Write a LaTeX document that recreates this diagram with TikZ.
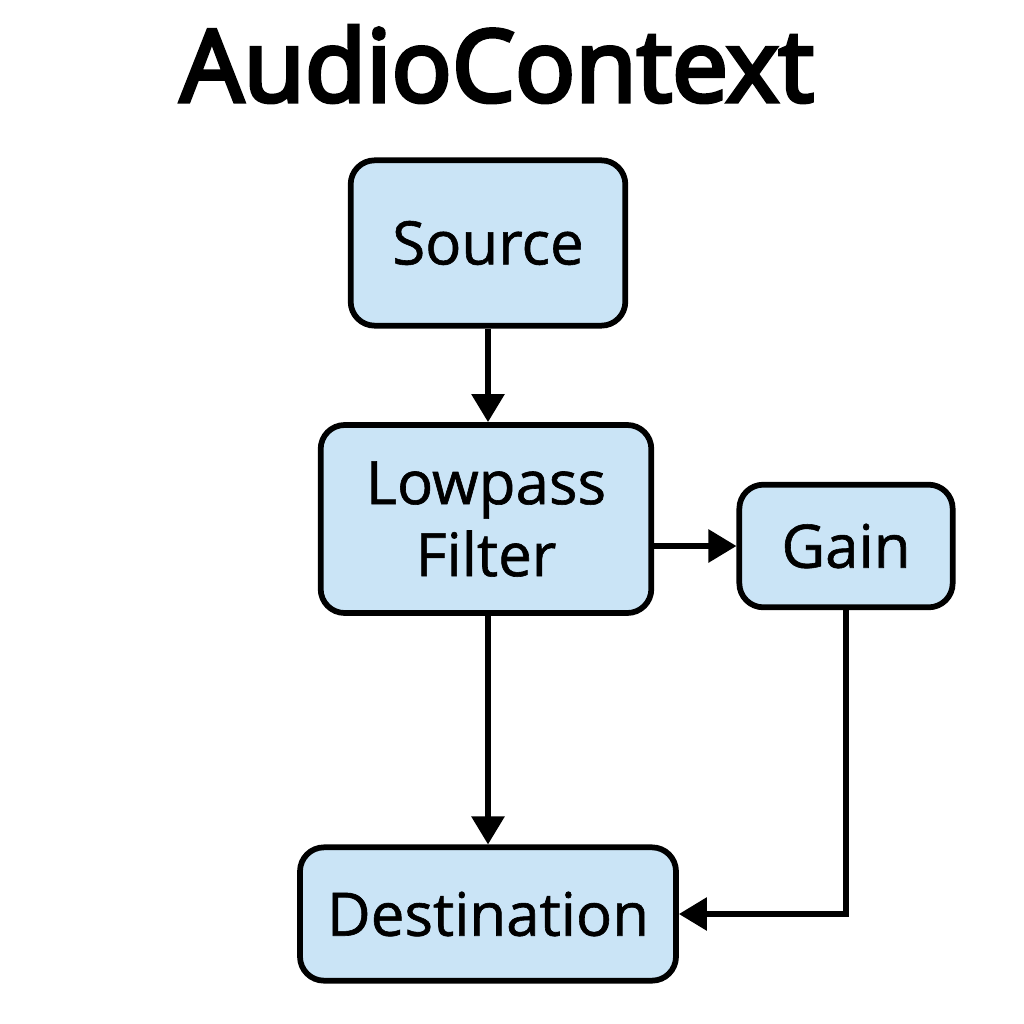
\documentclass[tikz,border=0pt]{standalone}
\usepackage{fontspec}
\setmainfont{Open Sans}
\newfontfamily\titlefont[FakeBold=4]{Open Sans}
\newfontfamily\boxfont[FakeBold=1]{Open Sans}
\usetikzlibrary{arrows.meta}

\definecolor{boxfill}{RGB}{202,228,246}
\tikzset{every picture/.style={line width=0.75pt}}
\tikzset{
  blockbox/.style={draw, fill=boxfill, line width=4.3pt, rounded corners=18pt,
    align=center, font=\boxfont\fontsize{45}{54}\selectfont, inner sep=0pt},
  flow/.style={line width=4.3pt, -{Triangle[length=21pt,width=24pt]}}
}

\begin{document}
\begin{tikzpicture}[x=0.75pt,y=0.75pt,yscale=-1,xscale=1]
\useasboundingbox (0,0) rectangle (1024,1024);

% Title
\node (title) at (497,64) {\titlefont\fontsize{75}{80}\selectfont AudioContext};

% Blocks
\node [blockbox, minimum width=206pt, minimum height=124pt] (src) at (488,243) {Source};
\node [blockbox, minimum width=248pt, minimum height=141pt] (lpf) at (486,519) {Lowpass\\Filter};
\node [blockbox, minimum width=160pt, minimum height=92pt] (gain) at (846,546) {Gain};
\node [blockbox, minimum width=282pt, minimum height=100pt] (dst) at (488,914) {Destination};

% Connectors
\draw [flow] (src.south) -- (src.south |- lpf.north);
\draw [flow] (lpf.east |- gain.west) -- (gain.west);
\draw [flow] (src.south |- lpf.south) -- (src.south |- dst.north);
\draw [flow] (gain.south) |- (dst.east);

\end{tikzpicture}
\end{document}
